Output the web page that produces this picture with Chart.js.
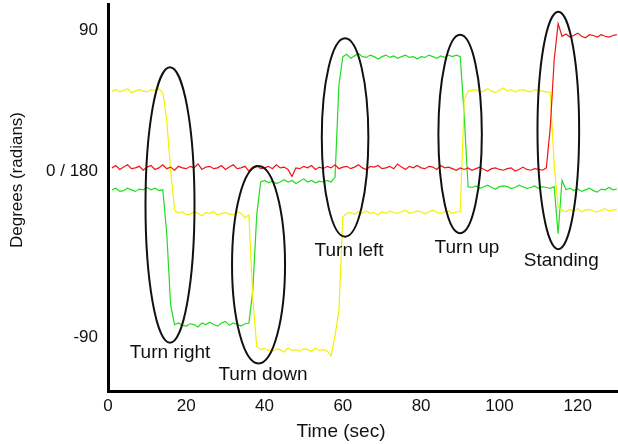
<!DOCTYPE html>
<html>
<head>
<meta charset="utf-8">
<script src="https://cdn.jsdelivr.net/npm/chart.js@4/dist/chart.umd.min.js"></script>
<style>
html,body{margin:0;padding:0;background:#fff;}
#wrap{width:618px;height:444px;position:relative;}
</style>
</head>
<body>
<div id="wrap"><canvas id="c" width="618" height="444"></canvas></div>
<script>
// Time samples (sec)
const times = [1,2,3,4,5,6,7,8,9,10,11,12,13,14,15,16,17,18,19,20,21,22,23,24,25,26,27,28,29,30,
31,32,33,34,35,36,37,38,39,40,41,42,43,44,45,46,47,48,49,50,51,52,53,54,55,56,57,58,59,60,
61,62,63,64,65,66,67,68,69,70,71,72,73,74,75,76,77,78,79,80,81,82,83,84,85,86,87,88,89,90,
91,92,93,94,95,96,97,98,99,100,101,102,103,104,105,106,107,108,109,110,111,112,113,114,115,116,117,118,119,120,
121,122,123,124,125,126,127,128,129,130];

const redSeries = [
2,3.5,1,2.5,4,1.5,2,3,0.5,2.5,
3.5,1,2,4,1.5,2.5,0.5,3,2,1.5,
3,2,4.5,1,2.5,3,1.5,2,3.5,1,
2.5,4,1.5,2,3,0,2.5,3.5,1.5,2,
3,1.5,4,2,2.5,1,-3.5,2,1.5,3,
2,3.5,1,2.5,1.5,3,2,4,1.5,2.5,
3,1.5,2.5,4,2,1,3,2.5,3.5,1.5,
2,3,1.5,4.5,2.5,1,3,2,3.5,2,
1.5,3,2.5,1,3.5,2,2.5,1.5,0.5,2,
1,2,0.5,1.5,2.5,1,0,1.5,2,1,
0.5,1.5,2,0,1,2.5,1,0.5,1.5,1,
0.5,2,28,71,94,
86,87.5,85.5,86.5,88,86,85,87,86.5,85.5,87,86,85.5,86.5,87];

const yellowSeries = [
51,52,50.5,51.5,52.5,50,51,52,51,50.5,52,51.5,52.5,50,
32.6,0.6,-25,
-27,-26,-28,-27.5,-26,-27,-28.5,-26.5,-27,-26,-28,-27,-26.5,-27.5,-28,-26,-27,-30,
-28,-82,-112,
-114,-113,-114.5,-115,-113.5,-114,-115.5,-113,-114.5,-114,-115,-113.5,-114,-115,-113,-114.5,-114,-115,-118,
-105,-89,-29.4,
-27,-26.5,-27.5,-26,-27,-25.5,-27,-26.5,-28,-26,-27,-25.5,-26.5,-27,-26,-25,-27,-26.5,-25.5,-26,-27.5,-26,-25,-26.5,-27,-26,-25.5,-27,-26,-26,
45,51,
51.5,52,50.5,51,52.5,51,50,51.5,53,51,52,50.5,51.5,52,51,50.5,52,51.5,51,50.5,50,
3.8,-23,
-25,-26,-24.5,-25.5,-24,-26,-25,-24.5,-25.5,-26,-25,-24,-25.5,-25,-24.5];

const greenSeries = [
-12,-11,-13,-12.5,-11,-12,-13,-11.5,-12,-10.5,-12,-11,-12.5,-12,
-39.6,-85.5,
-98,-97,-98.5,-99,-97.5,-98,-99.5,-97,-98,-96.5,-98,-99,-97,-96,-98.5,-97,-98,-99,-97.5,-97,
-76,-28,
-7,-6,-7.5,-6.5,-8,-7,-5.5,-7,-6,-8,-6.5,-5,-7,-6,-7.5,-6.5,-7,-6,-7,-4,
55,
73,74.5,72,73.5,75,73,72.5,74,73,71.5,73,74,72.5,73.5,72,73,74,72.5,73,71.5,73,72.5,74,73,72,73.5,72.5,74,73,74,73,
35.7,
-10,-10.5,-9.5,-11,-10,-9,-10.5,-11.5,-10,-9.5,-10,-11,-10.5,-9,-10,-11,-10.5,-9.5,-11,-10,-10.5,-11,-10,
-40,-6,
-12,-11,-12.5,-11.5,-13,-12,-11,-12.5,-13.5,-11.5,-12,-10.5,-12,-11.5];

// Axis ticks
const xTickValues = [0,20,40,60,80,100,120];
const yTickValues = [90, 0, -106];
const yTickLabels = ['90', '0 / 180', '-90'];

// Annotations: [centre time, centre value], [time radius, value radius]
const ellipseCenters = [[15.84,-21.7],[38.46,-59.8],[60.57,21.4],[89.96,23.6],[115.05,25.9]];
const ellipseRadii = [[6.26,87.9],[6.77,63.0],[5.95,63.3],[5.55,63.3],[5.32,75.8]];
const eventLabels = ['Turn right','Turn down','Turn left','Turn up','Standing'];
const eventLabelPos = [[15.84,-119.4],[39.6,-133.4],[61.6,-54.3],[91.7,-52.5],[115.8,-60.4]];

const xTitle = 'Time (sec)';
const yTitle = 'Degrees (radians)';

function pts(arr){ return times.map((t,i)=>({x:t,y:arr[i]})); }

const FONT = '"Liberation Sans", Arial, sans-serif';

const annot = {
  id:'annot',
  afterDatasetsDraw(chart){
    const ctx = chart.ctx, xs = chart.scales.x, ys = chart.scales.y;
    ctx.save();
    ctx.strokeStyle = '#111';
    ctx.lineWidth = 2;
    ellipseCenters.forEach((c,i)=>{
      const cx = xs.getPixelForValue(c[0]), cy = ys.getPixelForValue(c[1]);
      const rx = Math.abs(xs.getPixelForValue(c[0]+ellipseRadii[i][0]) - cx);
      const ry = Math.abs(ys.getPixelForValue(c[1]+ellipseRadii[i][1]) - cy);
      ctx.beginPath();
      ctx.ellipse(cx, cy, rx, ry, 0, 0, Math.PI*2);
      ctx.stroke();
    });
    ctx.fillStyle = '#111';
    ctx.font = '19px ' + FONT;
    ctx.textAlign = 'center';
    ctx.textBaseline = 'alphabetic';
    eventLabels.forEach((s,i)=>{
      ctx.fillText(s, xs.getPixelForValue(eventLabelPos[i][0]), ys.getPixelForValue(eventLabelPos[i][1]));
    });
    // axis titles
    ctx.font = '19px ' + FONT;
    ctx.fillText(xTitle, 341, 437);
    ctx.translate(17, 180);
    ctx.rotate(-Math.PI/2);
    ctx.font = '17px ' + FONT;
    ctx.textBaseline = 'middle';
    ctx.fillText(yTitle, 0, 0);
    ctx.restore();
  }
};

new Chart(document.getElementById('c'), {
  type:'line',
  data:{
    datasets:[
      {label:'red', data:pts(redSeries), borderColor:'#f01414', borderWidth:1.2, pointRadius:0, tension:0},
      {label:'yellow', data:pts(yellowSeries), borderColor:'#f2f200', borderWidth:1.2, pointRadius:0, tension:0},
      {label:'green', data:pts(greenSeries), borderColor:'#22dd22', borderWidth:1.2, pointRadius:0, tension:0}
    ]
  },
  options:{
    responsive:false,
    animation:false,
    layout:{padding:{top:4,right:0,left:0,bottom:0}},
    plugins:{legend:{display:false}, tooltip:{enabled:false}},
    scales:{
      x:{
        type:'linear', min:0, max:130.3,
        afterBuildTicks(s){ s.ticks = xTickValues.map(v=>({value:v})); },
        afterFit(s){ s.height = 53; s.paddingLeft = 0; s.paddingRight = 0; },
        grid:{display:false, drawTicks:false},
        border:{display:true, color:'#000', width:3},
        ticks:{font:{size:17, family:FONT}, color:'#111', padding:5, maxRotation:0, autoSkip:false,
               callback:(v)=>String(v)}
      },
      y:{
        type:'linear', min:-140.4, max:106.6,
        afterBuildTicks(s){ s.ticks = yTickValues.map(v=>({value:v})); },
        afterFit(s){ s.width = 108; s.paddingTop = 0; s.paddingBottom = 0; },
        grid:{display:false, drawTicks:false},
        border:{display:true, color:'#000', width:3},
        ticks:{font:{size:17, family:FONT}, color:'#111', padding:10, autoSkip:false,
               callback:(v)=>{ const i = yTickValues.indexOf(v); return i>=0 ? yTickLabels[i] : ''; }}
      }
    }
  },
  plugins:[annot]
});
</script>
</body>
</html>
